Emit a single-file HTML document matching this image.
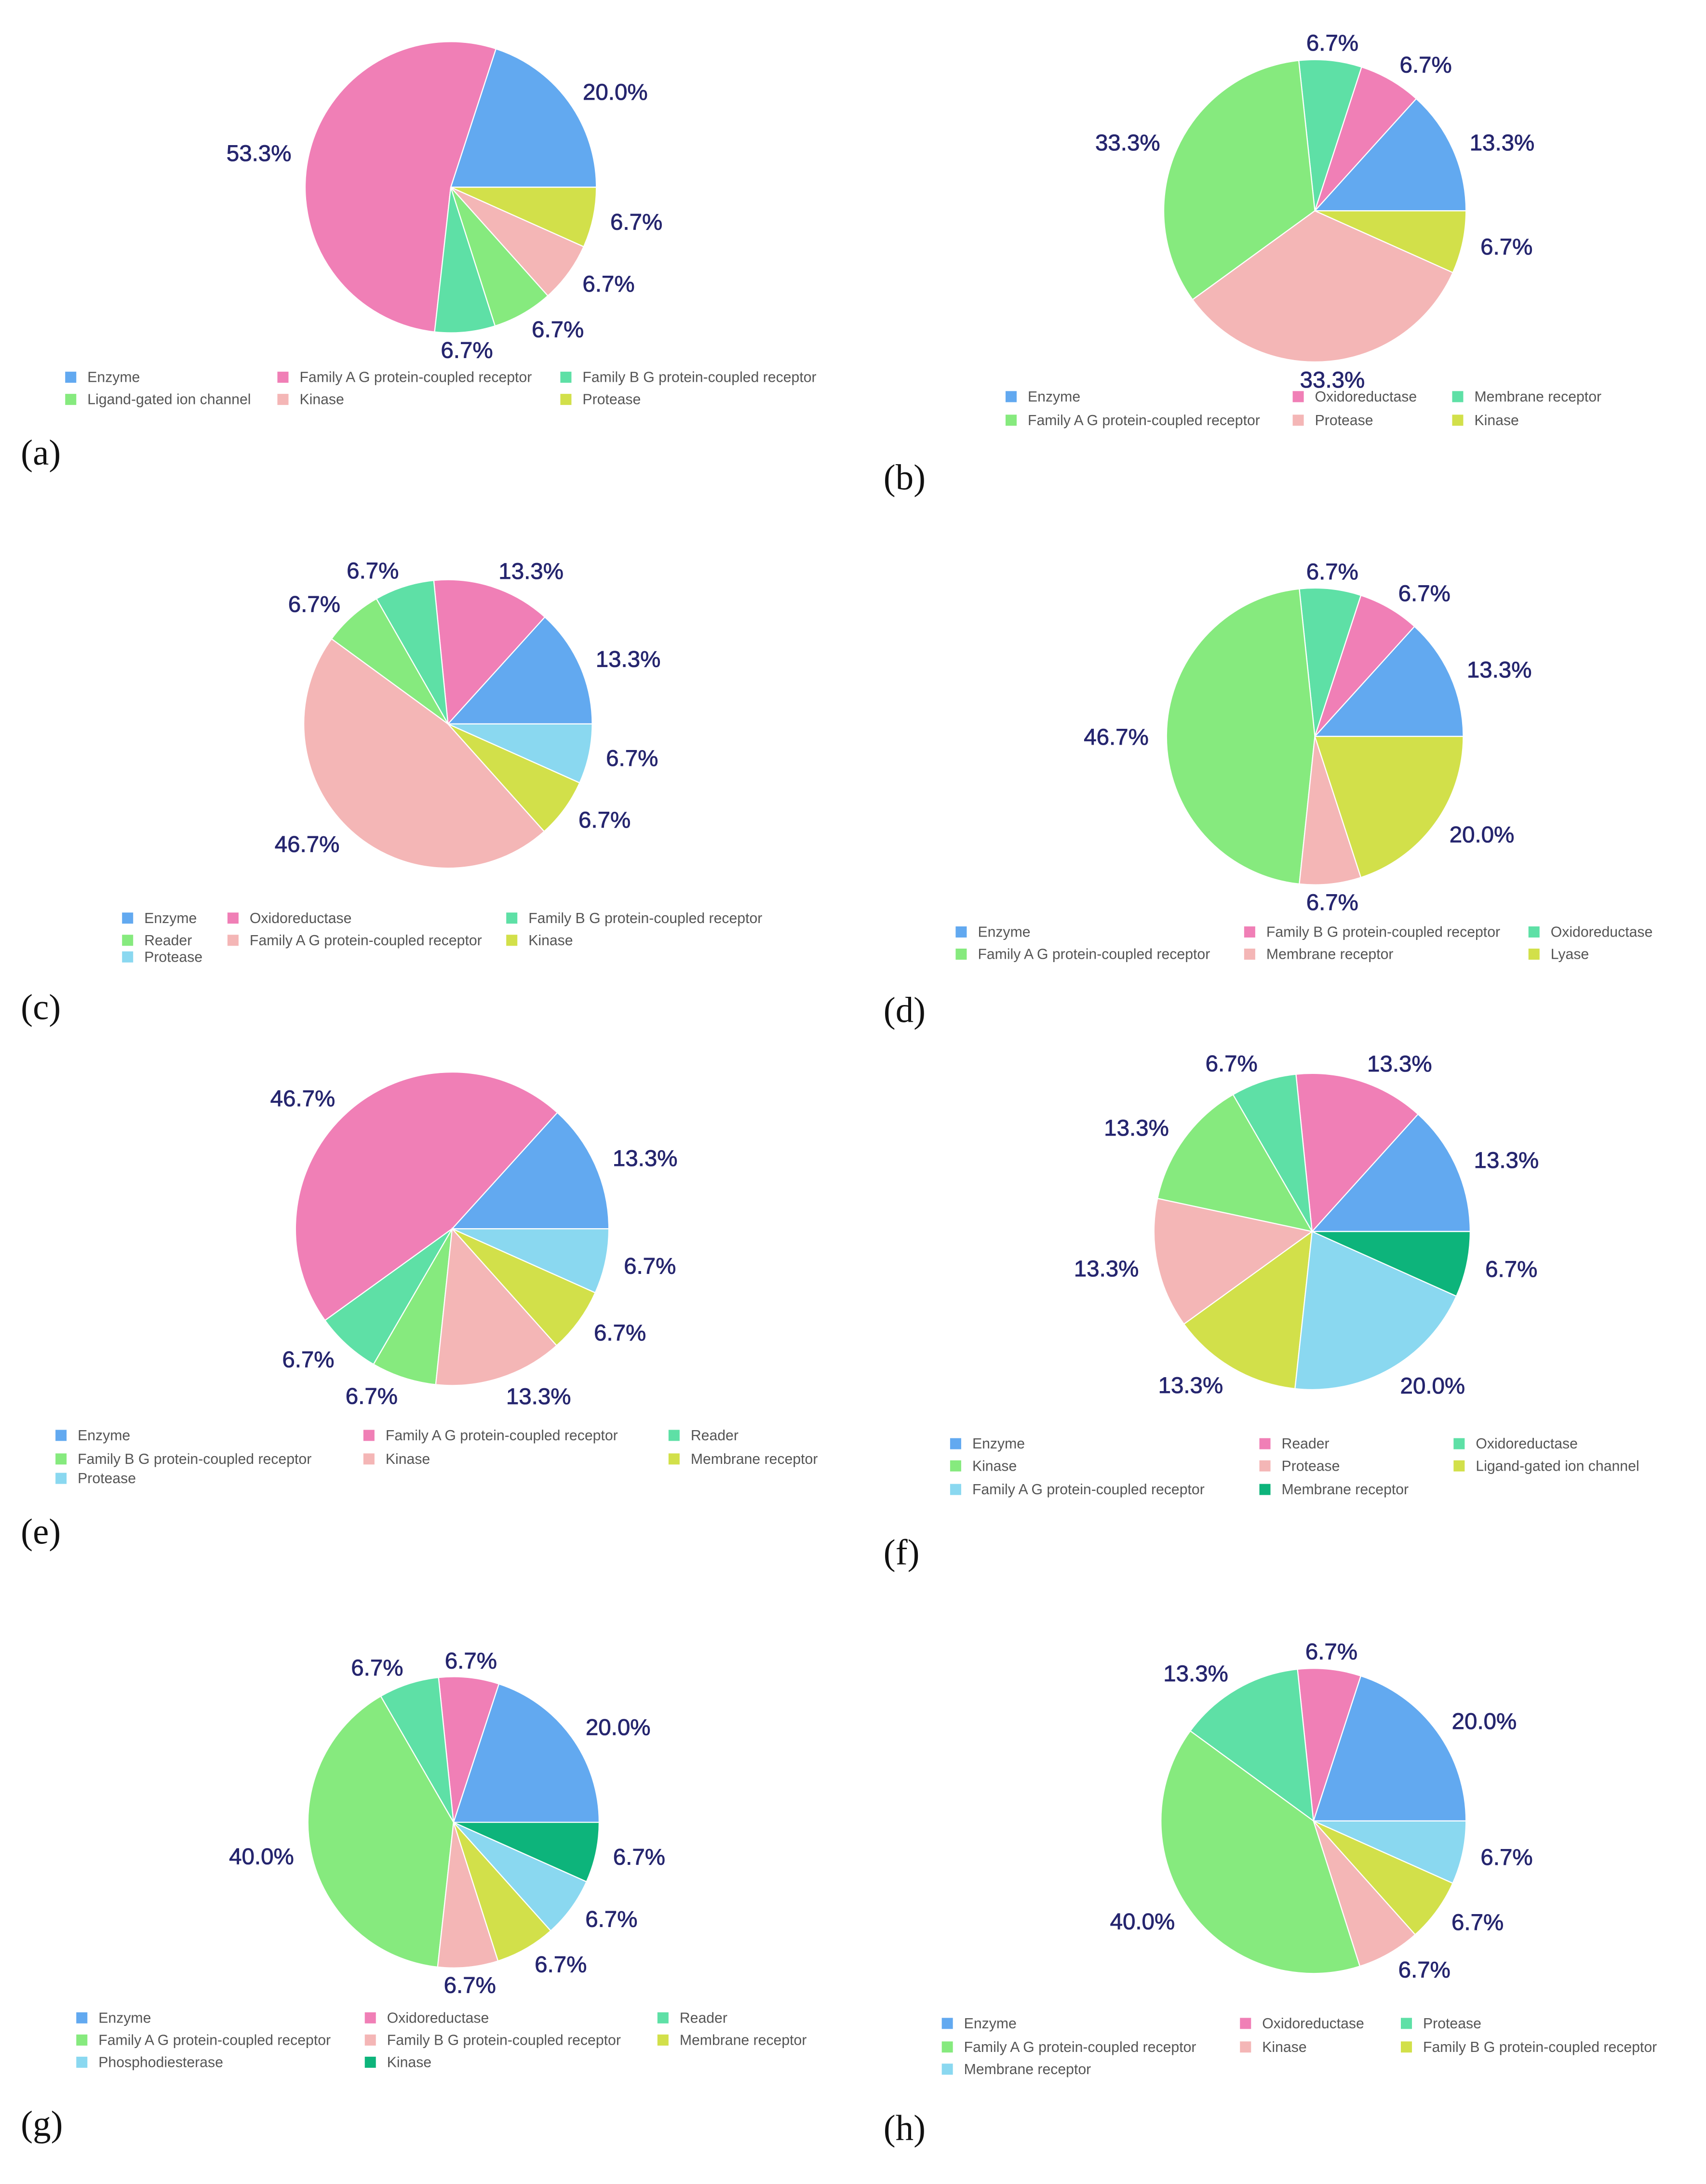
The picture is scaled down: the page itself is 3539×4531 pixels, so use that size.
<!DOCTYPE html>
<html><head><meta charset="utf-8"><style>
html,body{margin:0;padding:0;background:#fff;}
svg{display:block;}
</style></head><body>
<svg id="fig" width="3539" height="4531" viewBox="0 0 1230 1574.8" preserveAspectRatio="none" xmlns="http://www.w3.org/2000/svg"></svg>
<script>
const C={blue:'#62a9f0',pink:'#f07fb6',teal:'#5ee0a6',green:'#86ea7e',lpink:'#f4b6b6',yellow:'#d2e04a',lblue:'#8ad8f0',dgreen:'#0db47b'};
const panelLetters=['a','b','c','d','e','f','g','h'];
const catsA=['Enzyme','Family A G protein-coupled receptor','Family B G protein-coupled receptor','Ligand-gated ion channel','Kinase','Protease'];
const valsA=[20.0,53.3,6.7,6.7,6.7,6.7];
const catsB=['Enzyme','Oxidoreductase','Membrane receptor','Family A G protein-coupled receptor','Protease','Kinase'];
const valsB=[13.3,6.7,6.7,33.3,33.3,6.7];
const catsC=['Enzyme','Oxidoreductase','Family B G protein-coupled receptor','Reader','Family A G protein-coupled receptor','Kinase','Protease'];
const valsC=[13.3,13.3,6.7,6.7,46.7,6.7,6.7];
const catsD=['Enzyme','Family B G protein-coupled receptor','Oxidoreductase','Family A G protein-coupled receptor','Membrane receptor','Lyase'];
const valsD=[13.3,6.7,6.7,46.7,6.7,20.0];
const catsE=['Enzyme','Family A G protein-coupled receptor','Reader','Family B G protein-coupled receptor','Kinase','Membrane receptor','Protease'];
const valsE=[13.3,46.7,6.7,6.7,13.3,6.7,6.7];
const catsF=['Enzyme','Reader','Oxidoreductase','Kinase','Protease','Ligand-gated ion channel','Family A G protein-coupled receptor','Membrane receptor'];
const valsF=[13.3,13.3,6.7,13.3,13.3,13.3,20.0,6.7];
const catsG=['Enzyme','Oxidoreductase','Reader','Family A G protein-coupled receptor','Family B G protein-coupled receptor','Membrane receptor','Phosphodiesterase','Kinase'];
const valsG=[20.0,6.7,6.7,40.0,6.7,6.7,6.7,6.7];
const catsH=['Enzyme','Oxidoreductase','Protease','Family A G protein-coupled receptor','Kinase','Family B G protein-coupled receptor','Membrane receptor'];
const valsH=[20.0,6.7,13.3,40.0,6.7,6.7,6.7];
const allCats=[catsA,catsB,catsC,catsD,catsE,catsF,catsG,catsH];
const allVals=[valsA,valsB,valsC,valsD,valsE,valsF,valsG,valsH];
const colorOrder=[C.blue,C.pink,C.teal,C.green,C.lpink,C.yellow,C.lblue,C.dgreen];
const L=[
 {cx:325,cy:135,r:105,ly:[272,288],lx:[55,208,412],px:15,py:335},
 {cx:948,cy:152,r:109,ly:[286,303],lx:[733,940,1055],px:637,py:353},
 {cx:323,cy:522,r:104,ly:[662,678,690],lx:[96,172,373],px:15,py:735},
 {cx:948,cy:531,r:107,ly:[672,688],lx:[697,905,1110],px:637,py:737},
 {cx:326,cy:886,r:113,ly:[1035,1052,1066],lx:[48,270,490],px:15,py:1113},
 {cx:946,cy:888,r:114,ly:[1041,1057,1074],lx:[693,916,1056],px:637,py:1128},
 {cx:327,cy:1314,r:105,ly:[1455,1471,1487],lx:[63,271,482],px:15,py:1540},
 {cx:947,cy:1313,r:110,ly:[1459,1476,1492],lx:[687,902,1018],px:637,py:1543}
];
const NS='http://www.w3.org/2000/svg';
const svg=document.getElementById('fig');
function mk(t,a,p){const e=document.createElementNS(NS,t);for(const k in a)e.setAttribute(k,a[k]);(p||svg).appendChild(e);return e;}
allVals.forEach((vals,pi)=>{
 const lay=L[pi],cats=allCats[pi];
 const g=mk('g',{});
 
 
 const tot=vals.reduce((a,b)=>a+b,0);
 let acc=0;
 vals.forEach((v,i)=>{
  const a0=acc/tot*2*Math.PI, a1=(acc+v)/tot*2*Math.PI; acc+=v;
  const x0=lay.cx+lay.r*Math.cos(a0), y0=lay.cy-lay.r*Math.sin(a0);
  const x1=lay.cx+lay.r*Math.cos(a1), y1=lay.cy-lay.r*Math.sin(a1);
  const big=(a1-a0)>Math.PI?1:0;
  const p=mk('path',{d:`M${lay.cx},${lay.cy}L${x0},${y0}A${lay.r},${lay.r} 0 ${big} 0 ${x1},${y1}Z`,fill:colorOrder[i],stroke:'#fff','stroke-width':0.8},g);
  
  
  const am=(a0+a1)/2, rr=lay.r*1.12;
  const lx=lay.cx+rr*Math.cos(am), ly=lay.cy-rr*Math.sin(am);
  const c=Math.cos(am);
  const anchor=c>0.15?'start':(c<-0.15?'end':'middle');
  const t=mk('text',{x:lx,y:ly+6,'text-anchor':anchor,'font-family':'Liberation Sans, sans-serif','font-size':16.5,fill:'#25256e',stroke:'#25256e','stroke-width':0.3},g);
  t.textContent=v.toFixed(1)+'%';
  
  
  const row=Math.floor(i/3), col=i%3;
  const gx=lay.lx[col], gy=lay.ly[row];
  const sw=mk('rect',{x:gx-8,y:gy-4,width:8,height:8,fill:colorOrder[i]},g);
  
  
  const lt=mk('text',{x:gx+8,y:gy+3.5,'font-family':'Liberation Sans, sans-serif','font-size':10.5,fill:'#555'},g);
  lt.textContent=cats[i];
  
  
 });
 const pl=mk('text',{x:lay.px,y:lay.py,'font-family':'Liberation Serif, serif','font-size':26,fill:'#111'},g);
 pl.textContent='('+panelLetters[pi]+')';
 
 
});
</script>
</body></html>
